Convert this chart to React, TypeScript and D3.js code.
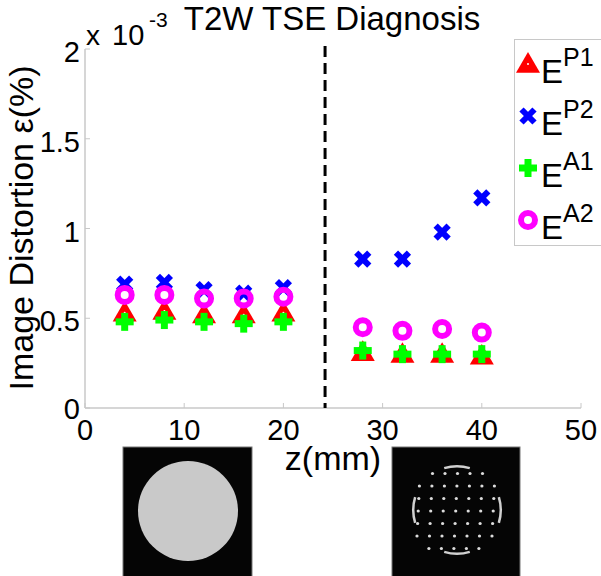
import * as d3 from "d3";

const zPos = [4, 8, 12, 16, 20, 28, 32, 36, 40];
const eP1 = [0.53, 0.54, 0.52, 0.52, 0.53, 0.31, 0.3, 0.3, 0.29];
const eP2 = [0.69, 0.7, 0.66, 0.64, 0.67, 0.83, 0.83, 0.98, 1.17];
const eA1 = [0.48, 0.49, 0.48, 0.47, 0.48, 0.32, 0.3, 0.3, 0.3];
const eA2 = [0.63, 0.63, 0.61, 0.61, 0.62, 0.45, 0.43, 0.44, 0.42];
const xTicks = [0, 10, 20, 30, 40, 50];
const yTicks = [0, 0.5, 1, 1.5, 2];
const yTickLabels = ["0", "0.5", "1", "1.5", "2"];
const dividerZ = 24.2;
const seriesNames = ["P1", "P2", "A1", "A2"];

// phantom grid layout (row index -> first/last column)
const gridRows = [
  [1, 5],
  [0, 6],
  [0, 6],
  [0, 6],
  [0, 6],
  [0, 6],
  [1, 5],
];
const arcCenters = [0, 90, 180, 270];

const FONT = "'Liberation Sans', Arial, Helvetica, sans-serif";
const W = 601;
const H = 576;

function Marker({ kind, x, y }: { kind: number; x: number; y: number }) {
  if (kind === 0) {
    const s = 12;
    return (
      <g transform={`translate(${x},${y})`}>
        <path d={`M0,${-s} L${s},${s * 0.72} L${-s},${s * 0.72} Z`} fill="#ff0000" />
        <circle r={1} fill="#fff" />
      </g>
    );
  }
  if (kind === 1) {
    const s = 6.5;
    return (
      <g transform={`translate(${x},${y})`} stroke="#0000ff" strokeWidth={6}>
        <line x1={-s} y1={-s} x2={s} y2={s} />
        <line x1={-s} y1={s} x2={s} y2={-s} />
      </g>
    );
  }
  if (kind === 2) {
    const s = 9;
    return (
      <g transform={`translate(${x},${y})`} stroke="#00ff00" strokeWidth={7}>
        <line x1={-s} y1={0} x2={s} y2={0} />
        <line x1={0} y1={-s} x2={0} y2={s} />
      </g>
    );
  }
  return <circle cx={x} cy={y} r={7} fill="none" stroke="#ff00ff" strokeWidth={6} />;
}

export default function App() {
  const x = d3.scaleLinear().domain([0, 50]).range([85, 581]);
  const y = d3.scaleLinear().domain([0, 2]).range([408, 49]);
  const series = [eP1, eP2, eA1, eA2];
  const axisColor = "#c8c8c8";

  // phantom image 2 dots
  const gx0 = 420;
  const gy0 = 473.5;
  const step = 12.5;
  const dots: { cx: number; cy: number }[] = [];
  gridRows.forEach(([c0, c1], r) => {
    for (let c = c0; c <= c1; c++) {
      dots.push({ cx: gx0 + c * step - r * 0.6, cy: gy0 + r * step });
    }
  });
  const arcGen = d3.arc();
  const arcs = arcCenters.map((a) =>
    arcGen({
      innerRadius: 42.5,
      outerRadius: 45,
      startAngle: ((a - 17) * Math.PI) / 180,
      endAngle: ((a + 17) * Math.PI) / 180,
    }) as string
  );

  return (
    <svg
      width={W}
      height={H}
      style={{ position: "absolute", left: 0, top: 0, background: "#fff" }}
      fontFamily={FONT}
    >
      <rect width={W} height={H} fill="#fff" />

      {/* axes */}
      <line x1={x(0)} x2={x(0)} y1={y(2)} y2={y(0)} stroke={axisColor} strokeWidth={1.5} />
      <line x1={x(0)} x2={x(50)} y1={y(0)} y2={y(0)} stroke={axisColor} strokeWidth={1.5} />
      {yTicks.map((t, i) => (
        <g key={"y" + t}>
          <line x1={x(0)} x2={x(0) + 5} y1={y(t)} y2={y(t)} stroke={axisColor} />
          <text x={80} y={y(t) + (i === 0 ? 11 : 13)} textAnchor="end" fontSize={29}>
            {yTickLabels[i]}
          </text>
        </g>
      ))}
      {xTicks.map((t) => (
        <g key={"x" + t}>
          <line x1={x(t)} x2={x(t)} y1={y(0)} y2={y(0) - 5} stroke={axisColor} />
          <text x={x(t)} y={440} textAnchor="middle" fontSize={29}>
            {t}
          </text>
        </g>
      ))}

      {/* exponent */}
      <text x={86} y={45} fontSize={28}>
        x
      </text>
      <text x={112} y={45} fontSize={29}>
        10
      </text>
      <text x={149} y={27} fontSize={21}>
        -3
      </text>

      {/* title */}
      <text x={332} y={30} textAnchor="middle" fontSize={33}>
        T2W TSE Diagnosis
      </text>

      {/* axis labels */}
      <text x={333} y={470} textAnchor="middle" fontSize={34}>
        z(mm)
      </text>
      <text transform="translate(33,228) rotate(-90)" textAnchor="middle" fontSize={34}>
        Image Distortion ε(%)
      </text>

      {/* divider */}
      <line
        x1={x(dividerZ)}
        x2={x(dividerZ)}
        y1={y(2) - 3}
        y2={y(0)}
        stroke="#000"
        strokeWidth={3}
        strokeDasharray="11,6"
      />

      {/* markers */}
      {series.map((vals, k) => (
        <g key={"s" + k}>
          {vals.map((v, i) => (
            <Marker key={i} kind={k} x={x(zPos[i])} y={y(v)} />
          ))}
        </g>
      ))}

      {/* legend */}
      <rect x={514.5} y={39.5} width={95} height={206} fill="#fff" stroke={axisColor} />
      {seriesNames.map((n, i) => {
        const ly = 64 + i * 52;
        return (
          <g key={n}>
            <Marker kind={i} x={528} y={ly} />
            <text x={541} y={ly + 19} fontSize={33}>
              E
            </text>
            <text x={563} y={ly + 2} fontSize={25}>
              {n}
            </text>
          </g>
        );
      })}

      {/* phantom images */}
      <rect x={123} y={447} width={129} height={130} fill="#050505" stroke="#777" strokeWidth={1} />
      <circle cx={188} cy={511} r={50} fill="#c9c9c9" />
      <rect x={392} y={447} width={128} height={130} fill="#050505" stroke="#777" strokeWidth={1} />
      {dots.map((d, i) => (
        <circle key={i} cx={d.cx} cy={d.cy} r={1.6} fill="#dcdcdc" />
      ))}
      <g transform="translate(457,510)">
        {arcs.map((a, i) => (
          <path key={i} d={a} fill="#d0d0d0" />
        ))}
      </g>
    </svg>
  );
}
